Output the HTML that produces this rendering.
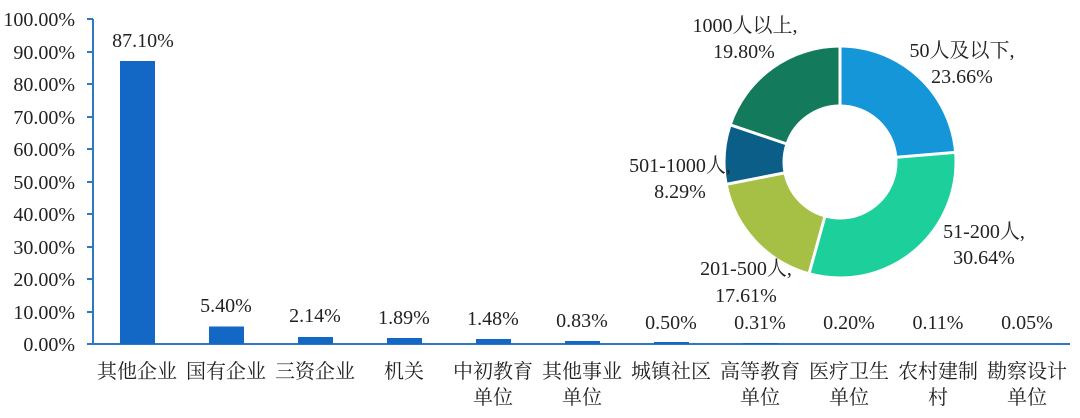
<!DOCTYPE html>
<html><head><meta charset="utf-8"><style>
body{margin:0;background:#fff;}
svg text{font-family:"Liberation Serif","Noto Serif CJK SC",serif;fill:#222;}
</style></head><body>
<svg width="1080" height="413" viewBox="0 0 1080 413" xmlns="http://www.w3.org/2000/svg">
<g font-size="20" text-anchor="end">
<text x="75" y="26">100.00%</text>
<text x="75" y="59">90.00%</text>
<text x="75" y="91">80.00%</text>
<text x="75" y="124">70.00%</text>
<text x="75" y="156">60.00%</text>
<text x="75" y="189">50.00%</text>
<text x="75" y="221">40.00%</text>
<text x="75" y="254">30.00%</text>
<text x="75" y="286">20.00%</text>
<text x="75" y="319">10.00%</text>
<text x="75" y="351">0.00%</text>
</g>
<g stroke="#2f78c4" stroke-width="2">
<line x1="93" y1="19" x2="93" y2="345"/>
<line x1="92" y1="344" x2="1070" y2="344"/>
<line x1="87" y1="19" x2="93" y2="19"/><line x1="87" y1="52" x2="93" y2="52"/><line x1="87" y1="84" x2="93" y2="84"/><line x1="87" y1="117" x2="93" y2="117"/><line x1="87" y1="149" x2="93" y2="149"/><line x1="87" y1="182" x2="93" y2="182"/><line x1="87" y1="214" x2="93" y2="214"/><line x1="87" y1="247" x2="93" y2="247"/><line x1="87" y1="279" x2="93" y2="279"/><line x1="87" y1="312" x2="93" y2="312"/><line x1="87" y1="344" x2="93" y2="344"/>
</g>
<g fill="#1368c6">
<rect x="120" y="61" width="35" height="283"/>
<rect x="209" y="326.5" width="35" height="17.5"/>
<rect x="298" y="337" width="35" height="7"/>
<rect x="387" y="338" width="35" height="6"/>
<rect x="476" y="339" width="35" height="5"/>
<rect x="565" y="341" width="35" height="3"/>
<rect x="654" y="342" width="35" height="2"/>
<rect x="743" y="343" width="35" height="1"/>
</g>
<g font-size="20" text-anchor="middle">
<text x="143" y="47">87.10%</text>
<text x="226" y="312">5.40%</text>
<text x="315" y="322">2.14%</text>
<text x="404" y="324">1.89%</text>
<text x="493" y="325">1.48%</text>
<text x="582" y="327">0.83%</text>
<text x="671" y="329">0.50%</text>
<text x="760" y="329">0.31%</text>
<text x="849" y="329">0.20%</text>
<text x="938" y="329">0.11%</text>
<text x="1027" y="329">0.05%</text>
</g>
<g font-size="20" text-anchor="middle" style="fill:#333">
<text x="137" y="378">其他企业</text>
<text x="226" y="378">国有企业</text>
<text x="315" y="378">三资企业</text>
<text x="404" y="378">机关</text>
<text x="493" y="378">中初教育</text><text x="493" y="404">单位</text>
<text x="582" y="378">其他事业</text><text x="582" y="404">单位</text>
<text x="671" y="378">城镇社区</text>
<text x="760" y="378">高等教育</text><text x="760" y="404">单位</text>
<text x="849" y="378">医疗卫生</text><text x="849" y="404">单位</text>
<text x="938" y="378">农村建制</text><text x="938" y="404">村</text>
<text x="1027" y="378">勘察设计</text><text x="1027" y="404">单位</text>
</g>
<g transform="translate(840,162) rotate(-90)" fill="none" stroke-width="57">
<circle r="86" stroke="#1496d8" stroke-dasharray="127.85 540.35" stroke-dashoffset="0"/>
<circle r="86" stroke="#1dcf9b" stroke-dasharray="165.56 540.35" stroke-dashoffset="-127.85"/>
<circle r="86" stroke="#a6bf45" stroke-dasharray="95.15 540.35" stroke-dashoffset="-293.41"/>
<circle r="86" stroke="#0b5e88" stroke-dasharray="44.80 540.35" stroke-dashoffset="-388.56"/>
<circle r="86" stroke="#137b5b" stroke-dasharray="106.99 540.35" stroke-dashoffset="-433.36"/>
</g>
<g transform="translate(840,162)" stroke="#fff" stroke-width="3">
<line x1="0" y1="0" x2="0" y2="-120" transform="rotate(0)"/>
<line x1="0" y1="0" x2="0" y2="-120" transform="rotate(85.2)"/>
<line x1="0" y1="0" x2="0" y2="-120" transform="rotate(195.5)"/>
<line x1="0" y1="0" x2="0" y2="-120" transform="rotate(258.9)"/>
<line x1="0" y1="0" x2="0" y2="-120" transform="rotate(288.7)"/>
</g>
<g font-size="20" text-anchor="middle">
<text x="745" y="32">1000人以上,</text><text x="744" y="58">19.80%</text>
<text x="962" y="57">50人及以下,</text><text x="962" y="83">23.66%</text>
<text x="680" y="172">501-1000人,</text><text x="680" y="198">8.29%</text>
<text x="984" y="238">51-200人,</text><text x="984" y="264">30.64%</text>
<text x="746" y="275">201-500人,</text><text x="746" y="302">17.61%</text>
</g>
</svg>
</body></html>
